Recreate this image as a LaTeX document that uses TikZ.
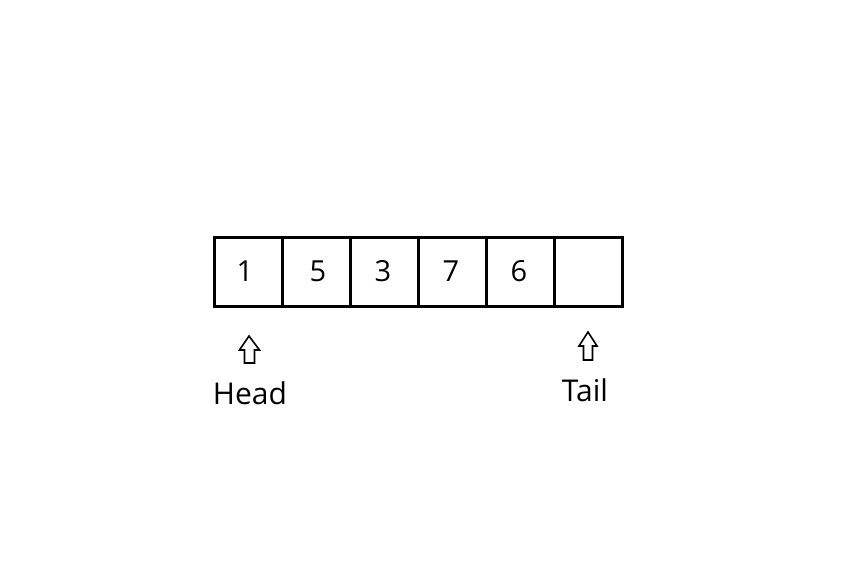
\documentclass[tikz,border=0pt]{standalone}
\usepackage{fontspec}
\setmainfont{Open Sans}
\begin{document}
\begin{tikzpicture}[x=1pt,y=-1pt,
  cell/.style={draw=black,line width=2.8pt,minimum width=68pt,minimum height=69pt,inner sep=0pt,anchor=north west},
  digit/.style={inner sep=0pt,font=\fontsize{29}{29}\selectfont},
  lbl/.style={inner sep=0pt,anchor=base,font=\fontsize{30}{30}\selectfont},
  uparrow/.style={draw=black,line width=1.6pt,fill=white,line join=miter}]
\useasboundingbox (0,0) rectangle (849,570);
\node[cell] (c1) at (213,236) {};
\node[cell] (c2) at (281,236) {};
\node[cell] (c3) at (349,236) {};
\node[cell] (c4) at (417,236) {};
\node[cell] (c5) at (485,236) {};
\node[cell] (c6) at (553,236) {};
\node[digit] (n1) at (245,271) {1};
\node[digit] (n2) at (318,271) {5};
\node[digit] (n3) at (383,271) {3};
\node[digit] (n4) at (451,271) {7};
\node[digit] (n5) at (519,271) {6};
\draw[uparrow] (249,336) -- (259.5,350) -- (254.5,350) -- (254.5,363) -- (244.5,363) -- (244.5,350) -- (239.5,350) -- cycle;
\draw[uparrow] (588,332) -- (597,346) -- (592.5,346) -- (592.5,360) -- (583.5,360) -- (583.5,346) -- (579,346) -- cycle;
\node[lbl] (head) at (250,404) {Head};
\node[lbl] (tail) at (585,401) {Tail};
\end{tikzpicture}
\end{document}
